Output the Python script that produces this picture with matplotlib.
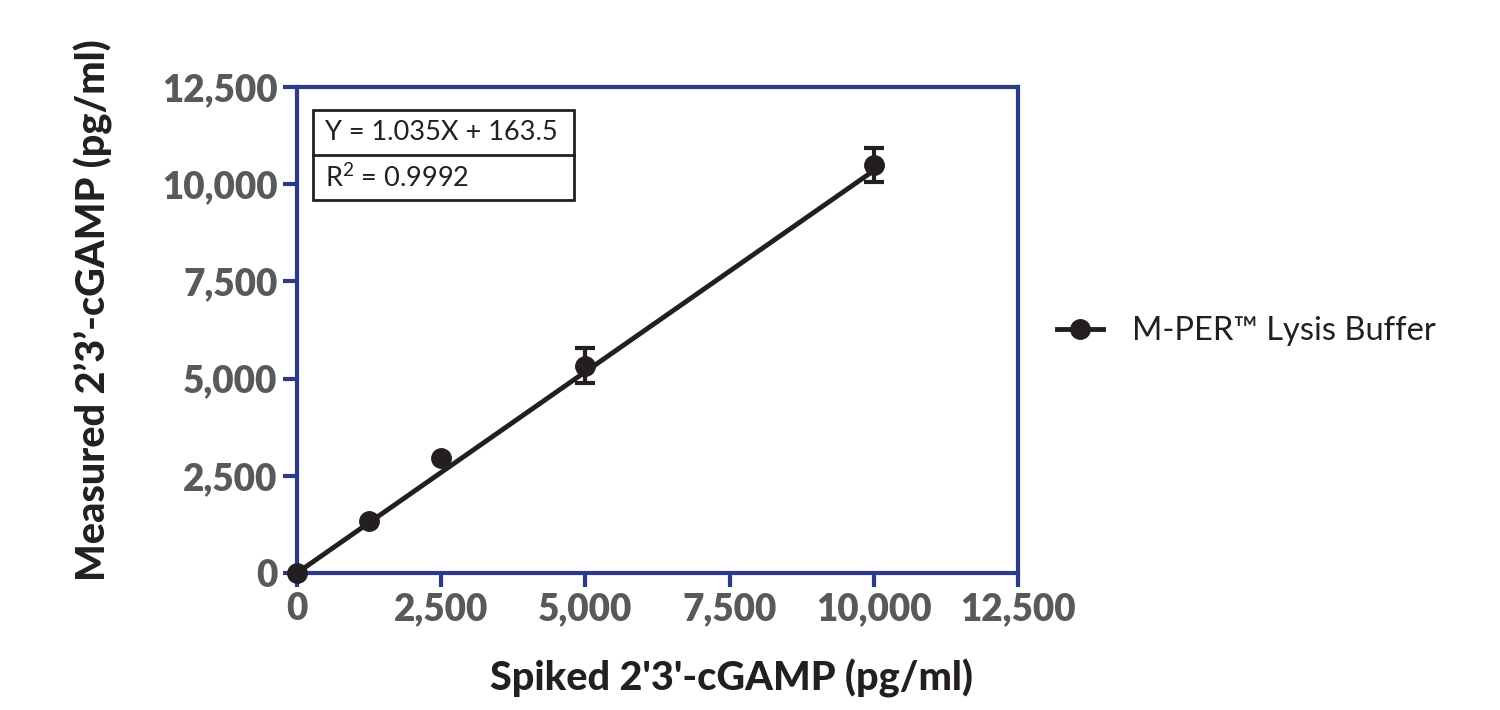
import matplotlib
matplotlib.use("Agg")
import matplotlib.pyplot as plt
import numpy as np
from matplotlib.patches import Rectangle

spiked = [0, 1250, 2500, 5000, 10000]
measured = [0, 1337, 2958, 5330, 10500]
errors = [0, 0, 0, 450, 435]
slope, intercept = 1.035, 163.5
ticks = [0, 2500, 5000, 7500, 10000, 12500]
tick_labels = ["0", "2,500", "5,000", "7,500", "10,000", "12,500"]

plt.rcParams['font.family'] = ['Lato', 'DejaVu Sans']
navy = '#2b3a8a'
gray = '#58595b'
black = '#231f20'

fig = plt.figure(figsize=(15, 7.1), dpi=100)
ax = fig.add_axes([0.198, 0.193, 0.4807, 0.6845])

xs = np.array(spiked)
ys = np.array(measured)
es = np.array(errors)
xfit = np.array([0, 10000])
ax.plot(xfit, slope * xfit, color=black, lw=3.5, zorder=2, clip_on=False)
ax.plot(xs, ys, 'o', color=black, ms=14, zorder=3, clip_on=False)
m = es > 0
ax.errorbar(xs[m], ys[m], yerr=es[m], fmt='none', ecolor=black,
            elinewidth=3, capsize=7, capthick=3, zorder=3)
h, = ax.plot([], [], '-o', color=black, lw=3.5, ms=14, label='M-PER™ Lysis Buffer')

ax.set_xlim(0, 12500)
ax.set_ylim(0, 12500)
ax.set_xticks(ticks)
ax.set_xticklabels(tick_labels)
ax.set_yticks(ticks)
ax.set_yticklabels(tick_labels)
for s in ax.spines.values():
    s.set_color(navy)
    s.set_linewidth(3)
ax.tick_params(axis='both', colors=navy, width=3, length=10, direction='out',
               labelsize=26.5, labelcolor=gray, pad=4)
for lbl in ax.get_xticklabels() + ax.get_yticklabels():
    lbl.set_fontweight('heavy')

ax.set_xlabel("Spiked 2'3'-cGAMP (pg/ml)", fontsize=28.5, fontweight='black', color=black)
ax.set_ylabel("Measured 2’3’-cGAMP (pg/ml)", fontsize=28.5, fontweight='black', color=black)
ax.xaxis.set_label_coords(0.602, -0.176)
ax.yaxis.set_label_coords(-0.255, 0.541)

# equation box
bx0, bx1 = 313 / 1500, 574 / 1500
by_top, by_mid, by_bot = 1 - 110 / 710, 1 - 155 / 710, 1 - 200 / 710
fig.patches.append(Rectangle((bx0, by_bot), bx1 - bx0, by_top - by_bot, transform=fig.transFigure,
                             fill=False, edgecolor=black, lw=2))
fig.lines.append(plt.Line2D([bx0, bx1], [by_mid, by_mid], transform=fig.transFigure, color=black, lw=2))
fig.text(bx0 + 0.008, (by_top + by_mid) / 2, "Y = 1.035X + 163.5", fontsize=19.5, color=black,
         va='center', ha='left')
fig.text(bx0 + 0.008, (by_mid + by_bot) / 2, r"R$^\mathregular{2}$ = 0.9992", fontsize=19.5, color=black,
         va='center', ha='left')

fig.legend(handles=[h], loc='center left', bbox_to_anchor=(0.685, 1 - 331 / 710), frameon=False,
           fontsize=23.5, handlelength=1.4, handletextpad=0.9, labelcolor=black)

fig.savefig('out.png', dpi=100)
